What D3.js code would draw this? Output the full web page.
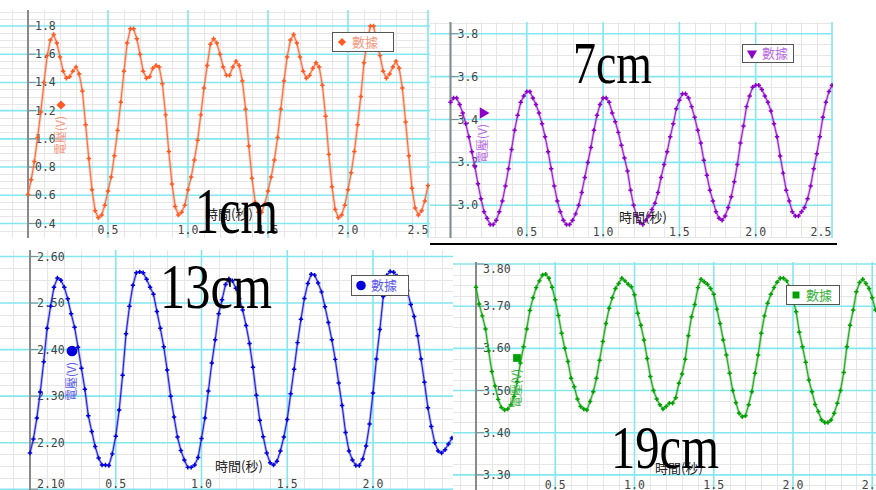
<!DOCTYPE html>
<html>
<head>
<meta charset="utf-8">
<script src="https://cdn.jsdelivr.net/npm/d3@7"></script>
<style>
  body { margin: 0; background: #fff; }
  svg { display: block; }
</style>
</head>
<body>
<svg id="chart" width="876" height="490"></svg>
<script>
// four screenshots of voltage vs time, one per distance (1, 7, 13, 19 cm)

var dt = 0.02; // sampling interval in seconds

var volt1cm = [
  0.605, 0.71, 0.84, 1.01, 1.19, 1.40, 1.59, 1.70, 1.74, 1.68,
  1.58, 1.48, 1.43, 1.44, 1.48, 1.51, 1.46, 1.34, 1.10, 0.86,
  0.64, 0.49, 0.44, 0.46, 0.53, 0.63, 0.73, 0.88, 1.06, 1.26,
  1.48, 1.68, 1.78, 1.78, 1.71, 1.60, 1.48, 1.43, 1.44, 1.50,
  1.52, 1.51, 1.39, 1.17, 0.91, 0.68, 0.52, 0.46, 0.48, 0.53,
  0.64, 0.73, 0.85, 0.99, 1.17, 1.36, 1.52, 1.67,
  1.71, 1.68, 1.60, 1.51, 1.45, 1.45, 1.51, 1.55, 1.52, 1.41,
  1.21, 0.95, 0.72, 0.55, 0.48, 0.48, 0.54, 0.63, 0.73, 0.85,
  1.01, 1.21, 1.41, 1.58, 1.70, 1.74, 1.68, 1.58, 1.48, 1.43,
  1.45, 1.50, 1.54, 1.51, 1.38, 1.16, 0.89, 0.66, 0.50, 0.44,
  0.46, 0.53, 0.64, 0.76, 0.91, 1.10, 1.30, 1.54, 1.69, 1.80,
  1.80, 1.67, 1.59, 1.48, 1.43, 1.46, 1.51, 1.55, 1.50, 1.36,
  1.12, 0.88, 0.65, 0.51, 0.46, 0.49, 0.56, 0.67
];

var volt7cm = [
  3.48, 3.50, 3.50, 3.47, 3.43, 3.38, 3.32, 3.25, 3.18, 3.10,
  3.03, 2.97, 2.94, 2.91, 2.91, 2.93, 2.97, 3.02, 3.09, 3.17,
  3.26, 3.35, 3.42, 3.48, 3.51, 3.53, 3.53, 3.50, 3.47, 3.43,
  3.38, 3.32, 3.25, 3.17, 3.09, 3.02, 2.97, 2.93, 2.91, 2.91,
  2.93, 2.96, 3.00, 3.06, 3.13, 3.20, 3.27, 3.35, 3.42, 3.47,
  3.50, 3.50, 3.48, 3.43, 3.39, 3.34, 3.28, 3.22, 3.16, 3.07,
  3.00, 2.95, 2.92, 2.91, 2.93, 2.95, 2.98,
  3.01, 3.06, 3.13, 3.19, 3.25, 3.32, 3.38, 3.45, 3.49, 3.52,
  3.52, 3.50, 3.46, 3.41, 3.35, 3.29, 3.21, 3.14, 3.07, 3.02,
  2.97, 2.94, 2.93, 2.95, 2.99, 3.04, 3.11, 3.19, 3.29, 3.37,
  3.46, 3.51, 3.55, 3.56, 3.56, 3.54, 3.51, 3.48, 3.44, 3.38,
  3.32, 3.23, 3.15, 3.07, 3.02, 2.97, 2.95, 2.95, 2.97, 2.99,
  3.03, 3.09, 3.17, 3.24, 3.32, 3.41, 3.48, 3.53, 3.56
];

var volt13cm = [
  2.178, 2.208, 2.253, 2.309, 2.374, 2.446, 2.493, 2.534, 2.554, 2.549,
  2.534, 2.509, 2.477, 2.448, 2.405, 2.360, 2.315, 2.258, 2.224, 2.192,
  2.167, 2.152, 2.152, 2.151, 2.176, 2.214, 2.270, 2.345, 2.434, 2.493,
  2.538, 2.565, 2.567, 2.565, 2.551, 2.534, 2.519, 2.482, 2.446, 2.406,
  2.356, 2.300, 2.255, 2.212, 2.183, 2.163, 2.147, 2.147, 2.152, 2.168,
  2.209, 2.253, 2.311, 2.371, 2.421, 2.477, 2.507,
  2.540, 2.552, 2.548, 2.532, 2.510, 2.485, 2.452, 2.413, 2.362, 2.302,
  2.248, 2.213, 2.178, 2.157, 2.152, 2.160, 2.182, 2.212, 2.250, 2.305,
  2.358, 2.415, 2.465, 2.510, 2.542, 2.562, 2.560, 2.543, 2.524, 2.492,
  2.458, 2.421, 2.379, 2.328, 2.280, 2.222, 2.182, 2.163, 2.151, 2.151,
  2.165, 2.193, 2.240, 2.307, 2.380, 2.443, 2.514, 2.559, 2.568, 2.566,
  2.558, 2.553, 2.542, 2.527, 2.497, 2.471, 2.430, 2.380, 2.330, 2.275,
  2.235, 2.200, 2.182, 2.178, 2.185, 2.197, 2.210
];

var volt19cm = [
  3.745, 3.705, 3.677, 3.646, 3.594, 3.545, 3.511, 3.479, 3.460, 3.454,
  3.456, 3.466, 3.486, 3.521, 3.565, 3.604, 3.646, 3.690, 3.720, 3.744,
  3.760, 3.774, 3.776, 3.766, 3.745, 3.715, 3.678, 3.636, 3.600, 3.569,
  3.529, 3.509, 3.480, 3.462, 3.456, 3.454, 3.474, 3.497, 3.529, 3.572,
  3.616, 3.659, 3.695, 3.720, 3.742, 3.754, 3.766, 3.760, 3.752, 3.746,
  3.727, 3.683, 3.655, 3.620, 3.576, 3.533, 3.500, 3.480, 3.466, 3.456,
  3.462, 3.470,
  3.470, 3.483, 3.517, 3.539, 3.574, 3.630, 3.675, 3.704, 3.744, 3.764,
  3.758, 3.752, 3.742, 3.728, 3.693, 3.659, 3.620, 3.584, 3.541, 3.500,
  3.471, 3.446, 3.438, 3.440, 3.466, 3.497, 3.541, 3.584, 3.636, 3.677,
  3.707, 3.728, 3.744, 3.757, 3.766, 3.766, 3.760, 3.745, 3.715, 3.687,
  3.638, 3.604, 3.567, 3.525, 3.497, 3.467, 3.450, 3.430, 3.424, 3.424,
  3.430, 3.446, 3.470, 3.500, 3.543, 3.604, 3.655, 3.691, 3.734, 3.756,
  3.764, 3.754, 3.742, 3.720, 3.691
];

var xTicksWide = [0.5, 1.0, 1.5, 2.0, 2.5];
var xTicksNarrow = [0.5, 1.0, 1.5, 2.0];
var yTicks1cm = [0.4, 0.6, 0.8, 1.0, 1.2, 1.4, 1.6, 1.8];
var yTicks7cm = [3.0, 3.2, 3.4, 3.6, 3.8];
var yTicks13cm = [2.10, 2.20, 2.30, 2.40, 2.50, 2.60];
var yTicks19cm = [3.30, 3.40, 3.50, 3.60, 3.70, 3.80];

var seriesName = "數據";
var yTitle = "電壓(V)";
var xTitle = "時間(秒)";
var panelTitles = ["1cm", "7cm", "13cm", "19cm"];

// diamond = square turned 45 degrees
var markerShapes = ["diamond", "triangle", "circle", "square"];

// layout of each screenshot; reference values -> pixel positions
var panels = [
  { values: volt1cm, xTicks: xTicksWide, yTicks: yTicks1cm, fmt: ".1f", yMinor: 0.05,
    box: [0, 10, 430, 238], xRef: [0, 2.5], xPix: [28, 428], yRef: [0.4, 1.8], yPix: [223.5, 26],
    line: "#ff8a66", dot: "#ff5a22", soft: "#f39a82", symSize: 42, fitRight: true,
    yLab: [61, 105], legend: [332, 32, 61, 19], xLab: [205, 214], xTickY: 230,
    big: [195, 233, 66, 83] },
  { values: volt7cm, xTicks: xTicksWide, yTicks: yTicks7cm, fmt: ".1f", yMinor: 0.05,
    box: [430, 22, 833, 238], xRef: [0, 2.5], xPix: [450.5, 832], yRef: [3.0, 3.8], yPix: [205.3, 33.7],
    line: "#b55ae0", dot: "#8d00c8", soft: "#b96ee0", symSize: 55, fitRight: true,
    yLab: [483, 113], legend: [742, 44, 51, 18], xLab: [619, 217], xTickY: 232,
    big: [573, 83, 59, 79] },
  { values: volt13cm, xTicks: xTicksNarrow, yTicks: yTicks13cm, fmt: ".2f", yMinor: 0.025,
    box: [0, 250, 453, 490], xRef: [0, 2.0], xPix: [30, 373], yRef: [2.2, 2.6], yPix: [442.7, 256.5],
    line: "#5a5af0", dot: "#0000dc", soft: "#5c5ce8", symSize: 90, fitRight: false,
    yLab: [72, 351], legend: [351, 275, 57, 20], xLab: [215, 466], xTickY: 484,
    big: [160, 308, 64, 112] },
  { values: volt19cm, xTicks: xTicksWide, yTicks: yTicks19cm, fmt: ".2f", yMinor: 0.025,
    box: [453, 262, 876, 490], xRef: [0, 2.0], xPix: [476, 793], yRef: [3.4, 3.8], yPix: [432.7, 264],
    line: "#4cbc4c", dot: "#00a000", soft: "#3fb03f", symSize: 60, fitRight: false,
    yLab: [517, 358], legend: [786, 285, 53, 19], xLab: [655, 468], xTickY: 485,
    big: [611, 468, 61, 108] }
];

var svg = d3.select("#chart");
var defs = svg.append("defs");

panels.forEach(drawPanel);

// black rule between the upper and lower screenshots
svg.append("line")
    .attr("x1", 430).attr("x2", 837)
    .attr("y1", 244).attr("y2", 244)
    .attr("stroke", "#000")
    .attr("stroke-width", 2);

function marker(sel, shape, size) {
  var types = { diamond: d3.symbolSquare, triangle: d3.symbolTriangle,
                circle: d3.symbolCircle, square: d3.symbolSquare };
  var turn = { diamond: 45, triangle: 180, circle: 0, square: 0 };
  return sel.append("path")
      .attr("d", d3.symbol().type(types[shape]).size(size))
      .attr("transform", "rotate(" + turn[shape] + ")");
}

function drawPanel(p, idx) {
  var x = d3.scaleLinear().domain(p.xRef).range(p.xPix);
  var y = d3.scaleLinear().domain(p.yRef).range(p.yPix);
  var b = p.box;
  var shape = markerShapes[idx];

  defs.append("clipPath").attr("id", "clip" + idx)
    .append("rect")
      .attr("x", b[0]).attr("y", b[1])
      .attr("width", b[2] - b[0]).attr("height", b[3] - b[1]);

  var g = svg.append("g").attr("clip-path", "url(#clip" + idx + ")");

  g.append("rect")
      .attr("x", b[0]).attr("y", b[1])
      .attr("width", b[2] - b[0]).attr("height", b[3] - b[1])
      .attr("fill", "#fff");

  // grid: minor every 0.1 s / quarter of a y step, major every 0.5 s / y step
  var xk = d3.range(Math.ceil(x.invert(b[0]) / 0.1), Math.floor(x.invert(b[2]) / 0.1) + 1);
  var yLo = Math.min(y.invert(b[1]), y.invert(b[3])),
      yHi = Math.max(y.invert(b[1]), y.invert(b[3]));
  var yk = d3.range(Math.ceil(yLo / p.yMinor), Math.floor(yHi / p.yMinor) + 1);

  g.append("g").selectAll("line")
    .data(xk.filter(function(k) { return k % 5 !== 0; }))
    .enter().append("line")
      .attr("x1", function(k) { return Math.round(x(k * 0.1)) + 0.5; })
      .attr("x2", function(k) { return Math.round(x(k * 0.1)) + 0.5; })
      .attr("y1", b[1]).attr("y2", b[3])
      .attr("stroke", "#e6e6e6");

  g.append("g").selectAll("line")
    .data(yk.filter(function(k) { return k % 4 !== 0; }))
    .enter().append("line")
      .attr("y1", function(k) { return Math.round(y(k * p.yMinor)) + 0.5; })
      .attr("y2", function(k) { return Math.round(y(k * p.yMinor)) + 0.5; })
      .attr("x1", b[0]).attr("x2", b[2])
      .attr("stroke", "#e6e6e6");

  g.append("g").selectAll("line")
    .data(xk.filter(function(k) { return k % 5 === 0; }))
    .enter().append("line")
      .attr("x1", function(k) { return x(k * 0.1); })
      .attr("x2", function(k) { return x(k * 0.1); })
      .attr("y1", b[1]).attr("y2", b[3])
      .attr("stroke", "#84e6ef")
      .attr("stroke-width", 1.6);

  g.append("g").selectAll("line")
    .data(yk.filter(function(k) { return k % 4 === 0; }))
    .enter().append("line")
      .attr("y1", function(k) { return y(k * p.yMinor); })
      .attr("y2", function(k) { return y(k * p.yMinor); })
      .attr("x1", b[0]).attr("x2", b[2])
      .attr("stroke", "#84e6ef")
      .attr("stroke-width", 1.6);

  // y axis line
  g.append("line")
      .attr("x1", x(0)).attr("x2", x(0))
      .attr("y1", b[1]).attr("y2", b[3])
      .attr("stroke", "#8a8a8a")
      .attr("stroke-width", 2);

  // y tick dashes and labels (labels kept inside the screenshot)
  var yt = g.append("g")
      .attr("font-family", "'DejaVu Sans Mono', monospace")
      .attr("font-size", 11.5)
      .attr("fill", "#444");

  yt.selectAll("line")
    .data(p.yTicks)
    .enter().append("line")
      .attr("x1", x(0) - 1).attr("x2", x(0) + 8)
      .attr("y1", function(d) { return y(d); })
      .attr("y2", function(d) { return y(d); })
      .attr("stroke", "#8a8a8a");

  yt.selectAll("text")
    .data(p.yTicks)
    .enter().append("text")
      .attr("x", x(0) + 7)
      .attr("y", function(d) { return Math.max(Math.min(y(d), b[3] - 6), b[1] + 6.5); })
      .attr("dy", "0.35em")
      .text(function(d) { return d3.format(p.fmt)(d); });

  g.append("g")
      .attr("font-family", "'DejaVu Sans Mono', monospace")
      .attr("font-size", 11.5)
      .attr("fill", "#444")
      .attr("text-anchor", "middle")
    .selectAll("text")
    .data(p.xTicks)
    .enter().append("text")
      .attr("x", function(d) { return p.fitRight ? Math.min(x(d), b[2] - 12) : x(d); })
      .attr("y", p.xTickY)
      .attr("dy", "0.35em")
      .text(function(d) { return d3.format(".1f")(d); });

  // the data: soft wide stroke under a thin line, with dots
  var line = d3.line()
    .x(function(d, i) { return x(i * dt); })
    .y(function(d) { return y(d); });

  g.append("path")
      .datum(p.values)
      .attr("fill", "none")
      .attr("stroke", p.line)
      .attr("stroke-opacity", 0.5)
      .attr("stroke-width", 2.6)
      .attr("d", line);

  g.append("path")
      .datum(p.values)
      .attr("fill", "none")
      .attr("stroke", p.dot)
      .attr("stroke-width", 0.85)
      .attr("d", line);

  g.append("g").selectAll("path")
    .data(p.values)
    .enter().append("path")
      .attr("transform", function(d, i) { return "translate(" + x(i * dt) + "," + y(d) + ")"; })
      .attr("d", d3.symbol().type(d3.symbolCross).size(11))
      .attr("fill", p.dot);

  // rotated y title with the series marker
  var yl = g.append("g")
      .attr("transform", "translate(" + p.yLab[0] + "," + p.yLab[1] + ") rotate(-90)");

  marker(yl, shape, p.symSize).attr("fill", p.dot);

  yl.append("text")
      .attr("x", -11)
      .attr("dy", "0.36em")
      .attr("text-anchor", "end")
      .attr("font-family", "'Noto Sans CJK TC', sans-serif")
      .attr("font-size", 12)
      .attr("fill", p.soft)
      .text(yTitle);

  // legend box
  var lg = g.append("g").attr("transform", "translate(" + p.legend[0] + "," + p.legend[1] + ")");
  lg.append("rect")
      .attr("x", 0.5).attr("y", 0.5)
      .attr("width", p.legend[2]).attr("height", p.legend[3])
      .attr("fill", "#fff")
      .attr("stroke", "#555");
  marker(lg.append("g").attr("transform", "translate(10," + (p.legend[3] / 2 + 0.5) + ")"),
         shape, p.symSize * 0.8)
      .attr("fill", p.dot);
  lg.append("text")
      .attr("x", 20)
      .attr("y", p.legend[3] / 2 + 0.5)
      .attr("dy", "0.36em")
      .attr("font-family", "'Noto Sans CJK TC', sans-serif")
      .attr("font-size", 13)
      .attr("fill", p.soft)
      .text(seriesName);

  // x title
  g.append("text")
      .attr("x", p.xLab[0])
      .attr("y", p.xLab[1])
      .attr("dy", "0.36em")
      .attr("font-family", "'Noto Sans CJK TC', sans-serif")
      .attr("font-size", 13)
      .attr("fill", "#222")
      .text(xTitle);

  // big distance caption
  svg.append("text")
      .attr("x", p.big[0])
      .attr("y", p.big[1])
      .attr("font-family", "'Liberation Serif', serif")
      .attr("font-size", p.big[2])
      .attr("textLength", p.big[3])
      .attr("lengthAdjust", "spacingAndGlyphs")
      .attr("fill", "#000")
      .text(panelTitles[idx]);
}
</script>
</body>
</html>
